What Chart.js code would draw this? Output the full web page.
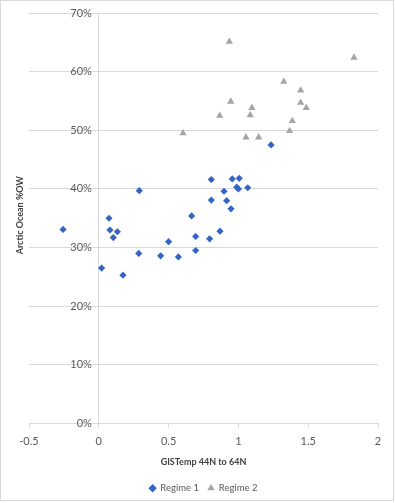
<!DOCTYPE html>
<html>
<head>
<meta charset="utf-8">
<script src="https://cdn.jsdelivr.net/npm/chart.js@4"></script>
<style>
  html, body { margin: 0; padding: 0; background: #fff; }
  #wrap { width: 395px; height: 503px; position: relative; }
</style>
</head>
<body>
<div id="wrap"><canvas id="c" width="395" height="503"></canvas></div>
<script>
const seriesNames = ['Regime 1', 'Regime 2'];
const regime1X = [-0.256, 0.02, 0.073, 0.08, 0.104, 0.133, 0.173, 0.286, 0.29, 0.443, 0.50, 0.57, 0.665, 0.694, 0.694, 0.794, 0.806, 0.806, 0.868, 0.897, 0.916, 0.947, 0.956, 0.988, 1.0, 1.006, 1.067, 1.234];
const regime1Y = [33.1, 26.5, 35.0, 33.0, 31.7, 32.7, 25.3, 29.0, 39.7, 28.6, 31.0, 28.4, 35.4, 31.9, 29.5, 31.5, 41.6, 38.1, 32.8, 39.6, 38.0, 36.6, 41.7, 40.3, 40.0, 41.8, 40.2, 47.5];
const regime2X = [0.603, 0.866, 0.935, 0.945, 1.054, 1.085, 1.097, 1.145, 1.325, 1.367, 1.386, 1.446, 1.446, 1.486, 1.828];
const regime2Y = [49.5, 52.5, 65.1, 54.9, 48.8, 52.6, 53.8, 48.8, 58.3, 49.9, 51.6, 56.8, 54.7, 53.8, 62.4];
const xTicks = [-0.5, 0, 0.5, 1, 1.5, 2];
const yTicks = [0, 10, 20, 30, 40, 50, 60, 70];
const xTitle = 'GISTemp 44N to 64N';
const yTitle = 'Arctic Ocean %OW';

const toPts = (xs, ys) => xs.map((x, i) => ({ x: x, y: ys[i] }));
const FONT = 'Lato, "Open Sans", sans-serif';

const framePlugin = {
  id: 'frame',
  beforeDraw(chart) {
    const ctx = chart.ctx;
    ctx.save();
    ctx.fillStyle = '#fff';
    ctx.fillRect(0, 0, chart.width, chart.height);
    ctx.strokeStyle = '#d9d9d9';
    ctx.lineWidth = 1;
    ctx.strokeRect(0.5, 0.5, chart.width - 2, chart.height - 3);
    ctx.restore();
  },
  afterDraw(chart) {
    const ctx = chart.ctx;
    const a = chart.chartArea;
    ctx.save();
    ctx.translate(20, (a.top + a.bottom) / 2 - 3);
    ctx.rotate(-Math.PI / 2);
    ctx.fillStyle = '#404040';
    ctx.font = 'bold 9px ' + FONT;
    ctx.textAlign = 'center';
    ctx.textBaseline = 'middle';
    ctx.fillText(yTitle, 0, 0);
    ctx.restore();
  }
};

new Chart(document.getElementById('c'), {
  type: 'scatter',
  data: {
    datasets: [
      {
        label: seriesNames[0],
        data: toPts(regime1X, regime1Y),
        pointStyle: 'rectRot',
        pointRadius: 3.6,
        pointHoverRadius: 3.6,
        backgroundColor: '#3565c4',
        borderColor: '#3565c4',
        borderWidth: 0
      },
      {
        label: seriesNames[1],
        data: toPts(regime2X, regime2Y),
        pointStyle: 'triangle',
        pointRadius: 4.2,
        pointHoverRadius: 4.2,
        backgroundColor: '#a5a5a5',
        borderColor: '#a5a5a5',
        borderWidth: 0
      }
    ]
  },
  options: {
    responsive: false,
    animation: false,
    devicePixelRatio: 1,
    layout: { padding: { left: 29, right: 17, top: 13, bottom: 0 } },
    plugins: {
      tooltip: { enabled: false },
      legend: {
        position: 'bottom',
        labels: {
          usePointStyle: true,
          boxWidth: 6,
          boxHeight: 6,
          padding: 9,
          color: '#595959',
          font: { family: FONT, size: 9.5 }
        }
      }
    },
    scales: {
      x: {
        type: 'linear',
        min: -0.5,
        max: 2,
        afterBuildTicks(s) { s.ticks = xTicks.map(v => ({ value: v })); },
        ticks: {
          color: '#595959',
          font: { family: FONT, size: 11 },
          padding: 7,
          callback: v => String(v)
        },
        grid: { display: true, drawOnChartArea: false, drawTicks: true, tickLength: 4, color: '#d9d9d9' },
        border: { display: true, color: '#d9d9d9' },
        title: {
          display: true,
          text: xTitle,
          color: '#404040',
          font: { family: FONT, size: 9, weight: 'bold' },
          padding: { top: 2, bottom: 7 }
        }
      },
      y: {
        type: 'linear',
        position: { x: 0 },
        min: 0,
        max: 70,
        afterBuildTicks(s) { s.ticks = yTicks.map(v => ({ value: v })); },
        ticks: {
          color: '#595959',
          font: { family: FONT, size: 11 },
          padding: 3,
          callback: v => v + '%\u2002\u2009'
        },
        grid: { display: true, drawTicks: true, tickLength: 8, tickColor: 'rgba(0,0,0,0)', color: '#d9d9d9', lineWidth: 1 },
        border: { display: true, color: '#d9d9d9' }
      }
    }
  },
  plugins: [framePlugin]
});
</script>
</body>
</html>
